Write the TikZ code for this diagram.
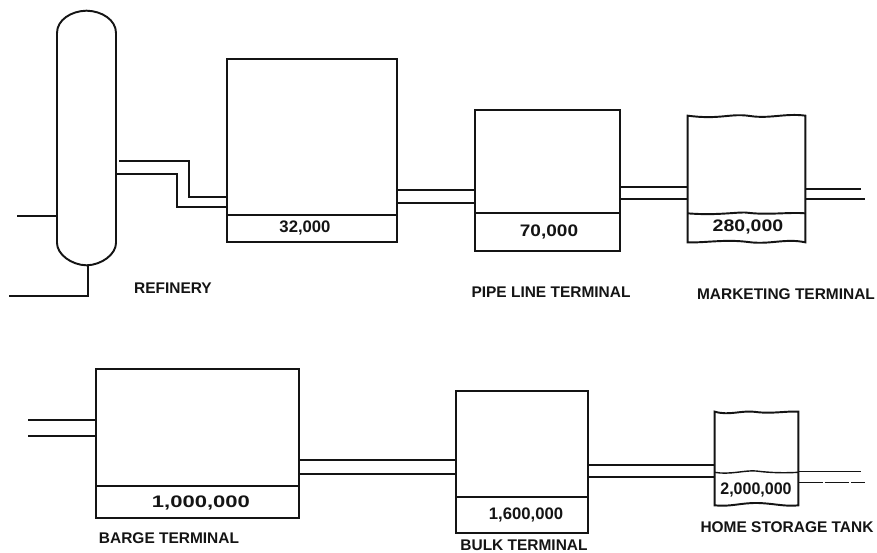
\documentclass[tikz,border=0pt]{standalone}
\usepackage{fontspec}
\setmainfont{Liberation Sans}
\usepackage{xcolor}
\usepackage{graphicx}
\usepackage{tikz}
\definecolor{binkk}{HTML}{141414}
\tikzstyle{tankblock} = [rectangle, draw=binkk, line width=1.1pt, inner sep=0pt]
\tikzstyle{wavyblock} = [rectangle, inner sep=0pt]
\tikzstyle{pipe} = [draw=binkk, line width=1.1pt]
\tikzstyle{thinpipe} = [draw=binkk, line width=0.8pt]
\tikzstyle{caption} = [text=binkk, font=\bfseries\fontsize{8.8}{10}\selectfont, inner sep=0pt]
\tikzstyle{amount} = [text=binkk, font=\bfseries\fontsize{9.5}{10}\selectfont, inner sep=0pt]

\begin{document}
\begin{tikzpicture}[x=0.02cm, y=-0.02cm]
    \useasboundingbox (0, 0) rectangle (877, 553);

    % refinery
    \node[wavyblock, minimum width=1.18cm, minimum height=5.08cm] at (86.5, 138) (refinery) {};
    \coordinate (rtl) at (57, 33);
    \coordinate (rtr) at (116, 33);
    \coordinate (rbr) at (116, 243);
    \coordinate (rbl) at (57, 243);
    \path[pipe] (rbl) -- (rtl) .. controls (57, 20) and (71, 11) .. (refinery.north)
        .. controls (102, 11) and (116, 20) .. (rtr) -- (rbr)
        .. controls (116, 254) and (102, 265) .. (refinery.south)
        .. controls (71, 265) and (57, 254) .. cycle;
    \coordinate (feedtop) at (17, 216);
    \coordinate (feedleft) at (9, 296);
    \coordinate (feedbend) at (88, 296);
    \path[pipe] (feedtop) -- (feedtop -| refinery.west);
    \path[pipe] (refinery.south -| feedbend) -- (feedbend) -- (feedleft);

    % top row tanks
    \node[tankblock, minimum width=3.4cm, minimum height=3.12cm] at (312, 137) (tankA) {};
    \node[tankblock, minimum width=3.4cm, minimum height=0.54cm] at (312, 228.5) (boxA) {};
    \node[amount] at (305, 228) (valA) {32,000};
    \node[tankblock, minimum width=2.9cm, minimum height=2.06cm] at (547.5, 161.5) (tankB) {};
    \node[tankblock, minimum width=2.9cm, minimum height=0.76cm] at (547.5, 232) (boxB) {};
    \node[amount] at (549, 232) (valB) {\scalebox{1.14}[1]{70,000}};
    \node[wavyblock, minimum width=2.34cm, minimum height=1.94cm] at (746.5, 164.5) (tankC) {};
    \node[wavyblock, minimum width=2.34cm, minimum height=0.58cm] at (746.5, 227.5) (boxC) {};
    \node[amount] at (748, 227) (valC) {\scalebox{1.17}[1]{280,000}};
    \path[pipe] (tankC.north west) .. controls (720, 120) and (730, 113) .. (750, 116)
        .. controls (770, 119) and (785, 113) .. (tankC.north east)
        -- (boxC.south east) .. controls (785, 238) and (770, 245) .. (748, 242)
        .. controls (725, 239) and (705, 243) .. (boxC.south west) -- cycle;
    \path[pipe] (tankC.south west) .. controls (720, 216) and (740, 211) .. (750, 213)
        .. controls (770, 215) and (790, 212) .. (tankC.south east);

    % bottom row tanks
    \node[tankblock, minimum width=4.06cm, minimum height=2.34cm] at (197.5, 427.5) (tankD) {};
    \node[tankblock, minimum width=4.06cm, minimum height=0.64cm] at (197.5, 502) (boxD) {};
    \node[amount] at (201, 503) (valD) {\scalebox{1.32}[1]{1,000,000}};
    \node[tankblock, minimum width=2.64cm, minimum height=2.12cm] at (522, 444) (tankE) {};
    \node[tankblock, minimum width=2.64cm, minimum height=0.72cm] at (522, 515) (boxE) {};
    \node[amount] at (526, 515) (valE) {1,600,000};
    \node[wavyblock, minimum width=1.66cm, minimum height=1.2cm] at (756.5, 442) (tankF) {};
    \node[wavyblock, minimum width=1.66cm, minimum height=0.66cm] at (756.5, 488.5) (boxF) {};
    \node[amount] at (756, 490) (valF) {\scalebox{0.96}[1]{2,000,000}};
    \path[pipe] (tankF.north west) .. controls (730, 416) and (740, 410) .. (756, 412)
        .. controls (772, 414) and (785, 411) .. (tankF.north east)
        -- (boxF.south east) .. controls (785, 507) and (772, 503) .. (756, 503)
        .. controls (740, 503) and (730, 507) .. (boxF.south west) -- cycle;
    \path[thinpipe] (tankF.south west) .. controls (730, 475) and (745, 470) .. (756, 471)
        .. controls (772, 473) and (785, 473) .. (tankF.south east);

    % pipes, refinery to tankA
    \coordinate (upA) at (119, 161);
    \coordinate (upB) at (189, 161);
    \coordinate (upC) at (189, 197);
    \coordinate (loA) at (116, 174);
    \coordinate (loB) at (177, 174);
    \coordinate (loC) at (177, 207);
    \path[pipe] (upA) -- (upB) -- (upC) -- (upC -| tankA.west);
    \path[pipe] (loA) -- (loB) -- (loC) -- (loC -| tankA.west);

    % pipes, top row
    \coordinate (abup) at (436, 190);
    \coordinate (ablo) at (436, 203);
    \path[thinpipe] (tankA.east |- abup) -- (tankB.west |- abup);
    \path[thinpipe] (tankA.east |- ablo) -- (tankB.west |- ablo);
    \coordinate (bcup) at (654, 187);
    \coordinate (bclo) at (654, 199);
    \path[pipe] (tankB.east |- bcup) -- (tankC.west |- bcup);
    \path[thinpipe] (tankB.east |- bclo) -- (tankC.west |- bclo);
    \coordinate (outCup) at (861, 189);
    \coordinate (outClo) at (865, 199);
    \path[thinpipe] (tankC.east |- outCup) -- (outCup);
    \path[thinpipe] (tankC.east |- outClo) -- (outClo);

    % pipes, bottom row
    \coordinate (inDup) at (28, 420);
    \coordinate (inDlo) at (28, 436);
    \path[pipe] (inDup) -- (inDup -| tankD.west);
    \path[pipe] (inDlo) -- (inDlo -| tankD.west);
    \coordinate (deup) at (378, 460);
    \coordinate (delo) at (378, 474);
    \path[thinpipe] (tankD.east |- deup) -- (tankE.west |- deup);
    \path[thinpipe] (tankD.east |- delo) -- (tankE.west |- delo);
    \coordinate (efup) at (650, 465);
    \coordinate (eflo) at (650, 477);
    \path[thinpipe] (tankE.east |- efup) -- (tankF.west |- efup);
    \path[thinpipe] (tankE.east |- eflo) -- (tankF.west |- eflo);
    \coordinate (outFup) at (861, 471);
    \coordinate (outFlo) at (865, 482);
    \path[draw=binkk, line width=0.5pt] (tankF.east |- outFup) -- (outFup);
    \path[draw=binkk, line width=0.5pt, dash pattern=on 14pt off 1pt] (tankF.east |- outFlo) -- (outFlo);

    % captions
    \node[caption] at (173, 288) (capR) {REFINERY};
    \node[caption] at (551, 292) (capB) {PIPE LINE TERMINAL};
    \node[caption] at (786, 294) (capC) {MARKETING TERMINAL};
    \node[caption] at (169, 538) (capD) {BARGE TERMINAL};
    \node[caption] at (524, 545) (capE) {BULK TERMINAL};
    \node[caption] at (787, 527) (capF) {HOME STORAGE TANK};
\end{tikzpicture}
\end{document}
